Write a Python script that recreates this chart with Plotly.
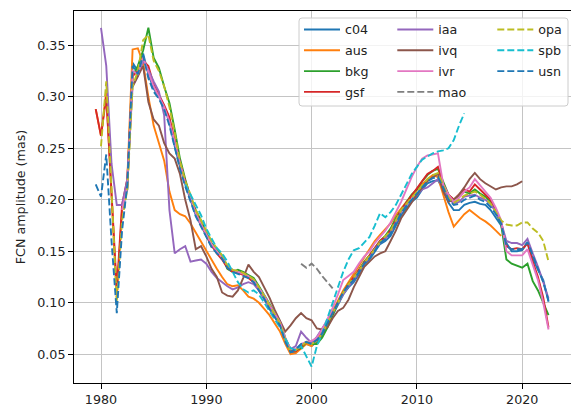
import plotly.graph_objects as go

N = None
# half-year sampling grid 1979.5 ... 2022.5 (87 points)
YEARS = [1979.5 + 0.5 * i for i in range(87)]

SERIES_NAMES = ["c04", "aus", "bkg", "gsf", "iaa", "ivq", "ivr", "mao", "opa", "spb", "usn"]

c04 = [N,
       N, N, N, N, 0.190, 0.210, 0.333, 0.325, 0.342, 0.322,
       0.308, 0.300, 0.290, 0.275, 0.252, 0.232, 0.215, 0.200, 0.185, 0.175,
       0.165, 0.155, 0.150, 0.146, 0.135, 0.131, 0.130, 0.128, 0.126, 0.122,
       0.114, 0.106, 0.096, 0.088, 0.080, 0.064, 0.052, 0.052, 0.058, 0.060,
       0.058, 0.062, 0.068, 0.078, 0.088, 0.098, 0.108, 0.115, 0.120, 0.128,
       0.137, 0.142, 0.150, 0.157, 0.160, 0.165, 0.175, 0.185, 0.192, 0.198,
       0.202, 0.210, 0.216, 0.218, 0.219, 0.210, 0.197, 0.190, 0.190, 0.195,
       0.197, 0.198, 0.196, 0.195, 0.190, 0.183, 0.175, 0.158, 0.150, 0.150,
       0.151, 0.158, 0.143, 0.132, 0.122, 0.101]

aus = [0.288,
       0.262, 0.305, 0.200, 0.105, 0.190, 0.220, 0.346, 0.347, 0.333, 0.300,
       0.272, 0.256, 0.238, 0.208, 0.190, 0.186, 0.184, 0.177, 0.168, 0.160,
       0.150, 0.142, 0.133, 0.125, 0.118, 0.116, 0.117, 0.112, 0.106, 0.104,
       0.100, 0.094, 0.088, 0.080, 0.072, 0.060, 0.050, 0.051, 0.056, 0.060,
       0.058, 0.064, 0.072, 0.082, 0.092, 0.102, 0.112, 0.120, 0.128, 0.136,
       0.144, 0.152, 0.160, 0.166, 0.172, 0.177, 0.185, 0.192, 0.198, 0.204,
       0.210, 0.215, 0.220, 0.224, 0.222, 0.205, 0.188, 0.174, 0.180, 0.186,
       0.190, 0.186, 0.182, 0.179, 0.175, 0.170, 0.165, N, N, N,
       N, N, N, N, N, N]

bkg = [N,
       N, N, N, N, 0.192, 0.212, 0.320, 0.330, 0.345, 0.367,
       0.338, 0.328, 0.310, 0.294, 0.268, 0.240, 0.220, 0.202, 0.190, 0.180,
       0.168, 0.158, 0.152, 0.145, 0.133, 0.130, 0.132, 0.130, 0.127, 0.124,
       0.116, 0.108, 0.099, 0.090, 0.082, 0.066, 0.055, 0.054, 0.056, 0.062,
       0.060, 0.060, 0.066, 0.076, 0.088, 0.100, 0.110, 0.118, 0.124, 0.132,
       0.140, 0.146, 0.153, 0.160, 0.165, 0.172, 0.182, 0.190, 0.198, 0.205,
       0.210, 0.218, 0.224, 0.228, 0.230, 0.218, 0.205, 0.200, 0.204, 0.208,
       0.206, 0.210, 0.206, 0.203, 0.198, 0.188, 0.176, 0.142, 0.138, 0.136,
       0.134, 0.138, 0.121, 0.112, 0.100, 0.088]

gsf = [0.288,
       0.262, 0.300, 0.205, 0.113, 0.195, 0.220, 0.320, 0.325, 0.335, 0.330,
       0.312, 0.302, 0.292, 0.280, 0.258, 0.236, 0.218, 0.203, 0.188, 0.176,
       0.166, 0.156, 0.148, 0.142, 0.134, 0.130, 0.129, 0.127, 0.124, 0.120,
       0.112, 0.104, 0.096, 0.088, 0.079, 0.064, 0.054, 0.053, 0.058, 0.062,
       0.062, 0.064, 0.070, 0.080, 0.090, 0.100, 0.110, 0.118, 0.125, 0.133,
       0.140, 0.146, 0.154, 0.160, 0.164, 0.170, 0.180, 0.190, 0.197, 0.204,
       0.210, 0.218, 0.225, 0.228, 0.232, 0.215, 0.205, 0.200, 0.205, 0.210,
       0.208, 0.215, 0.210, 0.205, 0.200, 0.190, 0.178, 0.155, 0.152, 0.153,
       0.152, 0.158, 0.140, 0.125, 0.105, 0.076]

iaa = [N,
       0.367, 0.330, 0.235, 0.195, 0.195, 0.220, 0.310, 0.320, 0.335, 0.326,
       0.315, 0.305, 0.282, 0.190, 0.148, 0.152, 0.155, 0.140, 0.141, 0.142,
       0.138, 0.130, 0.124, 0.120, 0.116, 0.113, 0.115, 0.118, 0.120, 0.118,
       0.112, 0.104, 0.095, 0.087, 0.078, 0.064, 0.055, 0.058, 0.072, 0.066,
       0.061, 0.067, 0.075, 0.082, 0.090, 0.099, 0.108, 0.116, 0.122, 0.130,
       0.138, 0.144, 0.152, 0.158, 0.162, 0.168, 0.178, 0.188, 0.195, 0.200,
       0.205, 0.210, 0.212, 0.216, 0.220, 0.212, 0.202, 0.196, 0.198, 0.203,
       0.204, 0.205, 0.202, 0.200, 0.196, 0.188, 0.178, 0.160, 0.158, 0.158,
       0.156, 0.162, 0.148, 0.135, 0.120, 0.104]

ivq = [N,
       N, N, N, N, N, N, 0.310, 0.320, 0.330, 0.295,
       0.278, 0.272, 0.255, 0.245, 0.240, 0.225, 0.200, 0.180, 0.152, 0.155,
       0.145, 0.133, 0.125, 0.110, 0.107, 0.106, 0.112, 0.124, 0.137, 0.130,
       0.125, 0.115, 0.105, 0.093, 0.083, 0.072, 0.078, 0.085, 0.090, 0.085,
       0.083, 0.075, 0.074, 0.076, 0.085, 0.092, 0.095, 0.103, 0.115, 0.125,
       0.135, 0.140, 0.145, 0.148, 0.150, 0.160, 0.170, 0.182, 0.190, 0.198,
       0.205, 0.212, 0.218, 0.222, 0.225, 0.208, 0.198, 0.200, 0.205, 0.212,
       0.220, 0.226, 0.220, 0.216, 0.213, 0.210, 0.212, 0.213, 0.213, 0.215,
       0.218, N, N, N, N, N]

ivr = [N,
       N, N, N, N, 0.190, 0.212, 0.325, 0.322, 0.338, 0.325,
       0.310, 0.300, 0.290, 0.276, 0.255, 0.235, 0.216, 0.202, 0.187, 0.176,
       0.166, 0.157, 0.150, 0.144, 0.136, 0.132, 0.130, 0.128, 0.126, 0.122,
       0.115, 0.107, 0.098, 0.090, 0.081, 0.066, 0.055, 0.055, 0.060, 0.062,
       0.063, 0.066, 0.074, 0.084, 0.095, 0.108, 0.122, 0.126, 0.130, 0.138,
       0.145, 0.150, 0.158, 0.164, 0.170, 0.178, 0.188, 0.198, 0.210, 0.222,
       0.232, 0.240, 0.243, 0.244, 0.245, 0.215, 0.205, 0.198, 0.202, 0.208,
       0.212, 0.220, 0.214, 0.208, 0.202, 0.192, 0.180, 0.150, 0.146, 0.146,
       0.146, 0.152, 0.136, 0.122, 0.100, 0.074]

mao = [N,
       N, N, N, N, N, N, N, N, N, N,
       N, N, N, N, N, N, N, N, N, N,
       N, N, N, N, N, N, N, N, N, N,
       N, N, N, N, N, N, N, N, 0.138, 0.134,
       0.138, 0.133, 0.126, 0.120, 0.114, N, N, N, N, N,
       N, N, N, N, N, N, N, N, N, N,
       N, N, N, N, N, N, N, N, N, N,
       N, N, N, N, N, N, N, N, N, N,
       N, N, N, N, N, N]

opa = [N,
       0.252, 0.315, 0.210, 0.100, 0.180, 0.210, 0.310, 0.325, 0.355, 0.360,
       0.335, 0.325, 0.310, 0.290, 0.265, 0.237, 0.218, 0.205, 0.190, 0.180,
       0.170, 0.160, 0.153, 0.146, 0.136, 0.132, 0.131, 0.129, 0.126, 0.123,
       0.115, 0.106, 0.097, 0.089, 0.080, 0.064, 0.053, 0.054, 0.058, 0.062,
       0.060, 0.063, 0.070, 0.080, 0.090, 0.100, 0.110, 0.118, 0.124, 0.131,
       0.139, 0.145, 0.152, 0.159, 0.164, 0.170, 0.180, 0.190, 0.196, 0.202,
       0.208, 0.215, 0.220, 0.224, 0.226, 0.214, 0.202, 0.197, 0.200, 0.204,
       0.206, 0.208, 0.205, 0.201, 0.196, 0.188, 0.180, 0.176, 0.175, 0.175,
       0.178, 0.178, 0.172, 0.168, 0.160, 0.140]

spb = [N,
       N, N, N, N, N, N, N, N, N, N,
       N, N, N, N, N, N, 0.215, 0.205, 0.195, 0.185,
       0.172, 0.162, 0.153, 0.148, 0.140, 0.130, 0.120, 0.113, 0.110, 0.112,
       0.108, 0.100, 0.092, 0.084, 0.076, 0.065, 0.056, 0.054, 0.058, 0.048,
       0.038, 0.058, 0.070, 0.085, 0.100, 0.115, 0.130, 0.142, 0.151, 0.153,
       0.158, 0.164, 0.175, 0.187, 0.183, 0.188, 0.195, 0.205, 0.215, 0.225,
       0.232, 0.239, 0.242, 0.245, 0.247, 0.248, 0.250, 0.258, 0.272, 0.284,
       N, N, N, N, N, N, N, N, N, N,
       N, N, N, N, N, N]

usn = [0.215,
       0.203, 0.244, 0.160, 0.090, 0.170, 0.215, 0.330, 0.322, 0.340, 0.318,
       0.305, 0.298, 0.288, 0.272, 0.250, 0.230, 0.213, 0.198, 0.184, 0.174,
       0.164, 0.154, 0.148, 0.143, 0.134, 0.130, 0.128, 0.126, 0.124, 0.120,
       0.112, 0.104, 0.094, 0.086, 0.078, 0.062, 0.052, 0.055, 0.060, 0.062,
       0.060, 0.064, 0.070, 0.080, 0.090, 0.100, 0.110, 0.117, 0.122, 0.130,
       0.138, 0.143, 0.151, 0.158, 0.162, 0.167, 0.177, 0.187, 0.194, 0.200,
       0.205, 0.212, 0.218, 0.221, 0.222, 0.212, 0.200, 0.195, 0.196, 0.200,
       0.202, 0.204, 0.200, 0.198, 0.193, 0.186, 0.177, 0.155, 0.152, 0.152,
       0.152, 0.159, 0.145, 0.133, 0.120, 0.102]

X_TICKS = [1980, 1990, 2000, 2010, 2020]
Y_TICKS = [0.05, 0.10, 0.15, 0.20, 0.25, 0.30, 0.35]
Y_LABEL = "FCN amplitude (mas)"

DATA = dict(c04=c04, aus=aus, bkg=bkg, gsf=gsf, iaa=iaa, ivq=ivq, ivr=ivr,
            mao=mao, opa=opa, spb=spb, usn=usn)
for k, v in DATA.items():
    assert len(v) == len(YEARS), (k, len(v))

COLORS = dict(c04="#1f77b4", aus="#ff7f0e", bkg="#2ca02c", gsf="#d62728",
              iaa="#9467bd", ivq="#8c564b", ivr="#e377c2", mao="#7f7f7f",
              opa="#bcbd22", spb="#17becf", usn="#1f77b4")
DASHED = {"mao", "opa", "spb", "usn"}
LEGEND_OF = dict(c04="legend", aus="legend", bkg="legend", gsf="legend",
                 iaa="legend2", ivq="legend2", ivr="legend2", mao="legend2",
                 opa="legend3", spb="legend3", usn="legend3")

FONT = "DejaVu Sans"
FS = 12.7
W, H = 571, 408
ML, MR, MT, MB = 74, 0, 11, 25
PW, PH = W - ML - MR, H - MT - MB


def px_x(px):
    return (px - ML) / PW


def px_y(py):
    return 1 - (py - MT) / PH


fig = go.Figure()
for name in SERIES_NAMES:
    fig.add_trace(go.Scatter(
        x=YEARS, y=DATA[name], mode="lines", name=name,
        line=dict(color=COLORS[name], width=1.9,
                  dash="7px,3px" if name in DASHED else "solid"),
        legend=LEGEND_OF[name], legendgroup=name,
        connectgaps=False, hoverinfo="skip"))

# legend frame (matplotlib style, rounded)
x0, x1 = px_x(299), px_x(568)
y1, y0 = px_y(18), px_y(106)
rx, ry = 3 / PW, 3 / PH
path = (f"M{x0+rx},{y1} L{x1-rx},{y1} Q{x1},{y1} {x1},{y1-ry} "
        f"L{x1},{y0+ry} Q{x1},{y0} {x1-rx},{y0} L{x0+rx},{y0} "
        f"Q{x0},{y0} {x0},{y0+ry} L{x0},{y1-ry} Q{x0},{y1} {x0+rx},{y1} Z")
fig.add_shape(type="path", path=path, xref="paper", yref="paper",
              fillcolor="rgba(255,255,255,0.8)",
              line=dict(color="#cccccc", width=1), layer="above")

leg_common = dict(bgcolor="rgba(0,0,0,0)", borderwidth=0,
                  font=dict(family=FONT, size=FS, color="#222222"),
                  xref="paper", yref="paper", xanchor="left",
                  yanchor="top", tracegroupgap=1.3, itemwidth=36,
                  orientation="v")
ly = px_y(14.7)
fig.update_layout(
    legend=dict(x=px_x(299), y=ly, **leg_common),
    legend2=dict(x=px_x(392.3), y=ly, **leg_common),
    legend3=dict(x=px_x(492.3), y=ly, **leg_common),
)

axis_common = dict(showline=True, linecolor="black", linewidth=1,
                   ticks="outside", ticklen=5, tickwidth=1, tickcolor="black",
                   showgrid=True, gridcolor="#c4c4c4", gridwidth=1,
                   zeroline=False, automargin=False,
                   tickfont=dict(family=FONT, size=FS, color="#222222"))

fig.update_xaxes(range=[1977.436, 2024.634], tickvals=X_TICKS,
                 ticktext=[str(t) for t in X_TICKS], mirror=True,
                 **axis_common)
fig.update_yaxes(range=[0.0221, 0.3833], tickvals=Y_TICKS,
                 ticktext=[f"{t:.2f}" for t in Y_TICKS],
                 title=dict(text=Y_LABEL, font=dict(family=FONT, size=FS, color="#222222"),
                            standoff=8),
                 **axis_common)

fig.update_layout(
    width=W, height=H,
    margin=dict(l=ML, r=MR, t=MT, b=MB, pad=0, autoexpand=False),
    paper_bgcolor="white", plot_bgcolor="white",
    font=dict(family=FONT, size=FS, color="#222222"),
    showlegend=True,
)

fig.write_html(
    "out.html",
    config={"displayModeBar": False, "staticPlot": True},
    post_script="document.body.style.margin='0';document.body.style.overflow='hidden';",
)
